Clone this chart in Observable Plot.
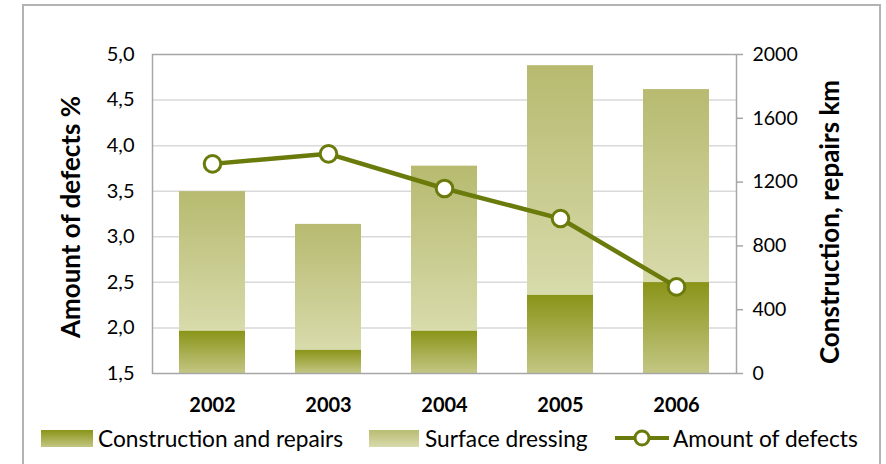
<!DOCTYPE html>
<html>
<head>
<meta charset="utf-8">
<script src="https://cdn.jsdelivr.net/npm/d3@7"></script>
<script src="https://cdn.jsdelivr.net/npm/@observablehq/plot@0.6"></script>
<style>
  html, body { margin: 0; padding: 0; background: #fff; overflow: hidden; }
  #wrap { position: relative; width: 886px; height: 464px; font-family: Lato, "Open Sans", sans-serif; }
  #frame { position: absolute; left: 22px; top: 4px; width: 859px; height: 520px; border: 2px solid #b3b3b3; box-sizing: border-box; }
  #chart { position: absolute; left: 0; top: 0; }
  .ytitle { position: absolute; font-weight: bold; font-size: 26px; white-space: nowrap; color: #000;
            transform: translate(-50%, -50%) rotate(-90deg); }
  .leg { position: absolute; top: 428px; height: 20px; display: flex; align-items: center; font-size: 22.7px; color: #000; white-space: nowrap; }
  .sw { display: inline-block; width: 52px; height: 17px; margin-right: 5px; }
</style>
</head>
<body>
<div id="wrap">
  <div id="frame"></div>
  <div id="chart"></div>
  <div class="ytitle" style="left:70px; top:217px;">Amount of defects %</div>
  <div class="ytitle" style="left:829px; top:222px;">Construction, repairs km</div>
  <div class="leg" style="left:41px;"><span class="sw" style="background:linear-gradient(#8a9418,#c3c683);"></span>Construction and repairs</div>
  <div class="leg" style="left:369px;"><span class="sw" style="width:50px; margin-right:6px; background:linear-gradient(#b9bc72,#d8dbab);"></span>Surface dressing</div>
  <div class="leg" style="left:614px;">
    <svg width="56" height="20" style="margin-right:3px"><line x1="1" y1="10" x2="55" y2="10" stroke="#6b7b0b" stroke-width="4"/><circle cx="28" cy="10" r="7" fill="#fff" stroke="#6b7b0b" stroke-width="3"/></svg>Amount of defects
  </div>
</div>
<script>
const years = ["2002", "2003", "2004", "2005", "2006"];
const construction = [265, 145, 265, 490, 570];   // km
const surface = [875, 790, 1035, 1440, 1210];     // km
const defects = [3.80, 3.91, 3.53, 3.20, 2.45];   // %
const leftTicks = [1.5, 2.0, 2.5, 3.0, 3.5, 4.0, 4.5, 5.0];
const rightTicks = [0, 400, 800, 1200, 1600, 2000];

// map right axis (km) onto left axis (%)
const km2pct = d3.scaleLinear([0, 2000], [1.5, 5.0]);

const barsC = years.map((y, i) => ({year: y, y1: km2pct(0), y2: km2pct(construction[i])}));
const barsS = years.map((y, i) => ({year: y, y1: km2pct(construction[i]), y2: km2pct(construction[i] + surface[i])}));
const line = years.map((y, i) => ({year: y, value: defects[i]}));

const olive = "#6b7b0b";

const chart = Plot.plot({
  width: 886,
  height: 420,
  marginLeft: 152,
  marginRight: 150,
  marginTop: 54,
  marginBottom: 47,
  style: {fontFamily: "Lato, 'Open Sans', sans-serif", color: "#000", background: "transparent"},
  x: {type: "band", domain: years, paddingInner: 0.43, paddingOuter: 0.215},
  y: {domain: [1.5, 5.0]},
  marks: [
    Plot.gridY(leftTicks.slice(1, -1), {stroke: "#d9d9d9", strokeOpacity: 1, strokeWidth: 1.5}),
    Plot.barY(barsS, {x: "year", y1: "y1", y2: "y2", fill: "url(#gS)"}),
    Plot.barY(barsC, {x: "year", y1: "y1", y2: "y2", fill: "url(#gC)"}),
    Plot.frame({stroke: "#a6a6a6", strokeWidth: 1.5}),
    Plot.axisY(leftTicks, {anchor: "left", tickSize: 0, tickPadding: 18, fontSize: 20,
      tickFormat: d => d.toFixed(1).replace(".", ","), label: null}),
    Plot.axisY(rightTicks.map(km2pct), {anchor: "right", tickSize: 6, tickPadding: 10, fontSize: 19.5,
      stroke: "#a6a6a6", fill: "#000", strokeWidth: 1.5,
      tickFormat: d => String(Math.round(km2pct.invert(d))), label: null}),
    Plot.axisX({tickSize: 0, tickPadding: 24, fontSize: 20, fontWeight: "bold", label: null}),
    Plot.line(line, {x: "year", y: "value", stroke: olive, strokeWidth: 4.5}),
    Plot.dot(line, {x: "year", y: "value", r: 8.3, fill: "#fff", stroke: olive, strokeWidth: 3})
  ]
});

const defs = d3.select(chart).insert("defs", ":first-child");
function grad(id, top, bottom) {
  const g = defs.append("linearGradient").attr("id", id).attr("x1", 0).attr("y1", 0).attr("x2", 0).attr("y2", 1);
  g.append("stop").attr("offset", "0%").attr("stop-color", top);
  g.append("stop").attr("offset", "100%").attr("stop-color", bottom);
}
grad("gC", "#8a9418", "#c3c683");
grad("gS", "#b7ba6f", "#d8dbab");

document.getElementById("chart").appendChild(chart);
</script>
</body>
</html>
